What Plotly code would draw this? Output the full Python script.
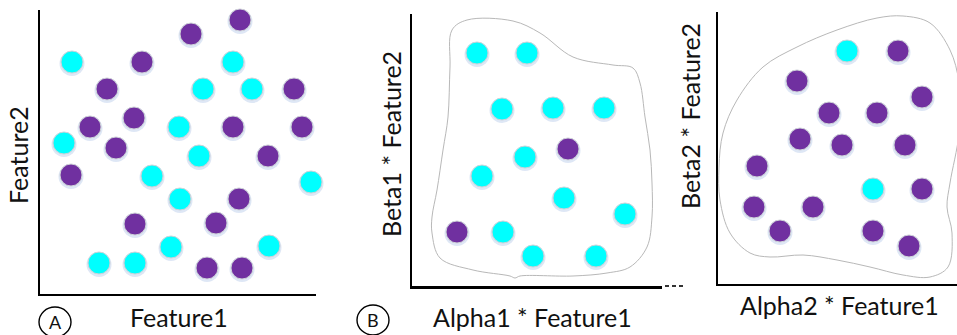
import plotly.graph_objects as go

W, H = 957, 335

# ---------------- data (units relative to each panel's axis origin) -------------
# Panel A : Feature1 vs Feature2
a_cyan_x = [32, 193, 163, 212, 24, 139, 159, 112, 140, 271, 131, 229, 59, 95]
a_cyan_y = [232, 232, 205, 205, 151, 167, 138, 118, 95, 112, 47, 48, 31, 31]
a_purple_x = [200, 151, 102, 67, 254, 50, 94, 193, 262, 76, 228, 31, 199, 95, 176, 167, 202]
a_purple_y = [274, 260, 232, 205, 205, 167, 176, 167, 167, 146, 138, 119, 95, 70, 71, 26, 26]

# Panel B : Alpha1*Feature1 vs Beta1*Feature2
b_cyan_x = [65, 115, 90, 141, 192, 113, 70, 152, 213, 91, 121, 184]
b_cyan_y = [233, 233, 177, 178, 178, 129, 110, 88, 72, 54, 30, 30]
b_purple_x = [156, 45]
b_purple_y = [137, 54]
b_blob_x = [40, 55, 101, 128, 161, 201, 221, 228, 233, 238, 240, 240, 235, 218, 195,
            161, 108, 103, 98, 61, 28, 20, 20, 25, 31, 36, 38, 40]
b_blob_y = [256, 266, 265, 253, 229, 221, 218, 203, 169, 136, 103, 69, 39, 19, 13,
            10, 10, 8, 10, 16, 28, 53, 69, 96, 136, 169, 219, 256]

# Panel C : Alpha2*Feature1 vs Beta2*Feature2
c_cyan_x = [129, 155]
c_cyan_y = [233, 95]
c_purple_x = [180, 79, 204, 111, 159, 82, 124, 187, 39, 204, 36, 95, 62, 155, 191]
c_purple_y = [233, 203, 187, 171, 171, 145, 139, 139, 118, 95, 77, 77, 53, 53, 38]
c_blob_x = [1, 5, 19, 45, 79, 119, 159, 185, 212, 232, 241, 241, 232, 229, 234, 230,
            212, 185, 152, 119, 85, 52, 32, 12, 2, 1]
c_blob_y = [117, 151, 184, 217, 237, 254, 266, 268, 261, 234, 201, 151, 101, 77, 51, 17,
            7, 9, 17, 24, 29, 27, 31, 51, 84, 117]

x_titles = ["Feature1", "Alpha1 * Feature1", "Alpha2 * Feature1"]
y_titles = ["Feature2", "Beta1 * Feature2", "Beta2 * Feature2"]
panel_tags = ["A", "B"]

# ---------------- layout geometry (pixels) ----------------
# (x0, x1, ytop, ybottom) of each panel's axes
panels = [(40, 316, 10, 294), (412, 662, 14, 286), (718, 957, 12, 284)]

CYAN = "#00FFFF"
PURPLE = "#7030A0"
FONT = "Lato"


def px(x):
    return x / W


def py(y):
    return 1 - y / H


fig = go.Figure()


def add_points(xs, ys, color, axis_idx):
    xa = "x" if axis_idx == 1 else f"x{axis_idx}"
    ya = "y" if axis_idx == 1 else f"y{axis_idx}"
    # soft shadow
    fig.add_trace(go.Scatter(
        x=xs, y=[v - 1.5 for v in ys], mode="markers", xaxis=xa, yaxis=ya,
        marker=dict(size=25, color="rgba(160,185,225,0.35)", line=dict(width=0)),
        hoverinfo="skip", showlegend=False, cliponaxis=False))
    fig.add_trace(go.Scatter(
        x=xs, y=ys, mode="markers", xaxis=xa, yaxis=ya,
        marker=dict(size=22, color=color, line=dict(width=1, color="#cfd3d8")),
        showlegend=False, cliponaxis=False))


def add_blob(xs, ys, axis_idx):
    xa = f"x{axis_idx}"
    ya = f"y{axis_idx}"
    fig.add_trace(go.Scatter(
        x=xs, y=ys, mode="lines", xaxis=xa, yaxis=ya,
        line=dict(color="#b8b8b8", width=1, shape="spline", smoothing=1.0),
        hoverinfo="skip", showlegend=False))


add_blob(b_blob_x, b_blob_y, 2)
add_blob(c_blob_x, c_blob_y, 3)
add_points(a_cyan_x, a_cyan_y, CYAN, 1)
add_points(a_purple_x, a_purple_y, PURPLE, 1)
add_points(b_cyan_x, b_cyan_y, CYAN, 2)
add_points(b_purple_x, b_purple_y, PURPLE, 2)
add_points(c_cyan_x, c_cyan_y, CYAN, 3)
add_points(c_purple_x, c_purple_y, PURPLE, 3)

layout = dict(
    width=W, height=H, autosize=False,
    margin=dict(l=0, r=0, t=0, b=0),
    paper_bgcolor="white", plot_bgcolor="white",
    showlegend=False,
)
line_widths = [(2, 2), (3, 2), (2, 2)]
for i, (x0, x1, yt, yb) in enumerate(panels):
    k = "" if i == 0 else str(i + 1)
    lwx, lwy = line_widths[i]
    layout["xaxis" + k] = dict(
        domain=[px(x0), px(x1)], range=[0, x1 - x0], anchor="y" + k,
        showline=True, linecolor="black", linewidth=lwx, showgrid=False,
        zeroline=False, showticklabels=False, ticks="", fixedrange=True)
    layout["yaxis" + k] = dict(
        domain=[py(yb), py(yt)], range=[0, yb - yt], anchor="x" + k,
        showline=True, linecolor="black", linewidth=lwy, showgrid=False,
        zeroline=False, showticklabels=False, ticks="", fixedrange=True)
fig.update_layout(**layout)

# axis titles as annotations
xt_pos = [(179, 317), (532, 317), (839, 305)]
yt_pos = [(18, 155), (391, 144), (690, 116)]
ann = []
for t, (x, y) in zip(x_titles, xt_pos):
    ann.append(dict(text=t, x=px(x), y=py(y), xref="paper", yref="paper",
                    xanchor="center", yanchor="middle", showarrow=False,
                    font=dict(family=FONT, size=25, color="#111")))
for t, (x, y) in zip(y_titles, yt_pos):
    ann.append(dict(text=t, x=px(x), y=py(y), xref="paper", yref="paper",
                    xanchor="center", yanchor="middle", showarrow=False, textangle=-90,
                    font=dict(family=FONT, size=25, color="#111")))

# circled panel tags
tag_pos = [(55, 322), (373, 320)]
shapes = []
for t, (x, y) in zip(panel_tags, tag_pos):
    shapes.append(dict(type="circle", xref="paper", yref="paper",
                       x0=px(x - 16), x1=px(x + 16), y0=py(y + 15), y1=py(y - 15),
                       line=dict(color="black", width=1.4)))
    ann.append(dict(text=t, x=px(x), y=py(y), xref="paper", yref="paper",
                    xanchor="center", yanchor="middle", showarrow=False,
                    font=dict(family=FONT, size=18, color="#111")))

# small dashed extension at the end of panel B's x-axis
shapes.append(dict(type="line", xref="paper", yref="paper",
                   x0=px(665), x1=px(683), y0=py(286), y1=py(286),
                   line=dict(color="#333", width=2, dash="4px,3px")))

fig.update_layout(annotations=ann, shapes=shapes)
fig.write_html(
    "out.html",
    config={"displayModeBar": False},
    post_script="document.body.style.margin='0';document.body.style.overflow='hidden';",
)
